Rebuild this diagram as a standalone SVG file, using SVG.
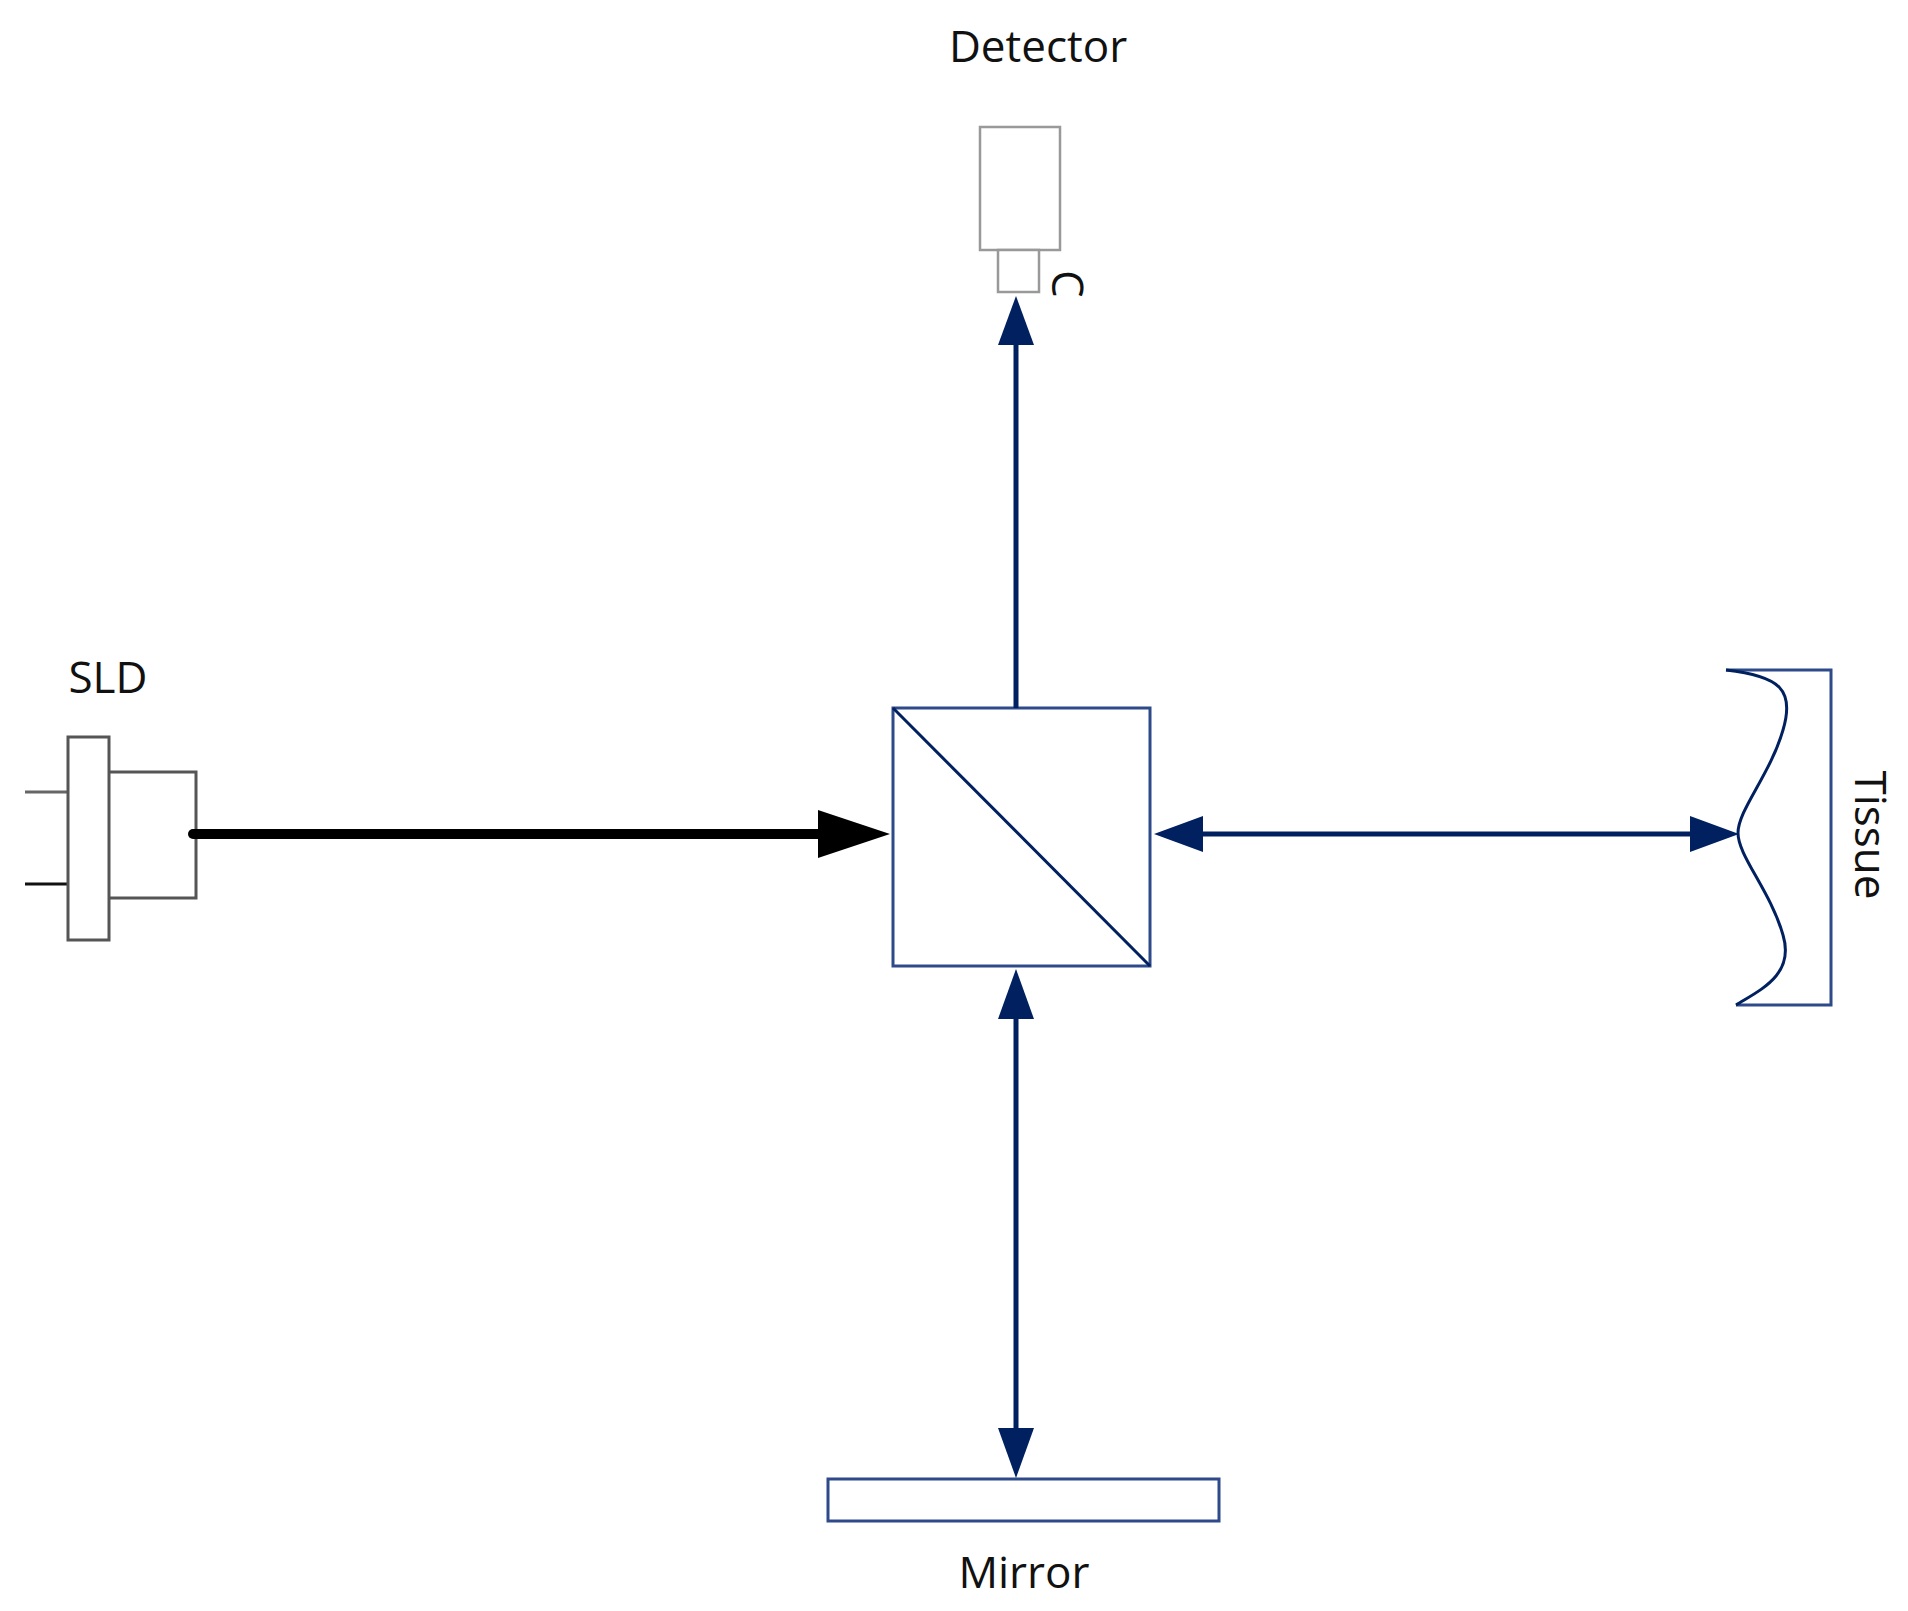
<svg xmlns="http://www.w3.org/2000/svg" width="1908" height="1611" viewBox="0 0 1908 1611">
<style>
text{font-family:"Open Sans","Liberation Sans",sans-serif;fill:#111;font-size:44px}
.blue{stroke:#002060;stroke-width:5;fill:none}
.gray{stroke:#999;stroke-width:2.5;fill:#fff}
.dk{stroke:#555;stroke-width:3;fill:#fff}
.nb{stroke:#2f4a8a;stroke-width:3;fill:#fff}
</style>
<rect width="1908" height="1611" fill="#fff"/>
<g id="detector">
<text x="1038" y="62" text-anchor="middle">Detector</text>
<rect class="gray" x="980" y="127" width="80" height="123"/>
<rect class="gray" x="998" y="250" width="41" height="42"/>
<text x="1040" y="282" font-size="34" transform="rotate(90 1052 282)">C</text>
</g>
<g id="sld">
<text x="108" y="693" text-anchor="middle">SLD</text>
<line x1="25" y1="792" x2="68" y2="792" stroke="#666" stroke-width="3"/>
<line x1="25" y1="884" x2="68" y2="884" stroke="#111" stroke-width="3"/>
<rect class="dk" x="108" y="772" width="88" height="126"/>
<rect class="dk" x="68" y="737" width="41" height="203"/>
</g>
<g id="splitter">
<rect class="nb" x="893" y="708" width="257" height="258"/>
<line x1="893" y1="708" x2="1150" y2="966" stroke="#002060" stroke-width="3"/>
</g>
<g id="tissue">
<path d="M1726,670 H1831 V1005 H1736" class="nb" fill="none"/>
<path d="M1726,670 C1780,676 1795,690 1783,730 C1770,775 1738,810 1738,833 C1738,856 1770,890 1783,935 C1795,975 1760,990 1736,1005" stroke="#002060" stroke-width="3" fill="none"/>
<text x="1870" y="835" text-anchor="middle" transform="rotate(90 1870 835)" dy="15">Tissue</text>
</g>
<g id="mirror">
<rect class="nb" x="828" y="1479" width="391" height="42"/>
<text x="1024" y="1588" text-anchor="middle">Mirror</text>
</g>
<g id="connectors">
<line x1="193" y1="834" x2="840" y2="834" stroke="#000" stroke-width="10" stroke-linecap="round"/>
<path d="M818,810L890,834L818,858z" fill="#000"/>
<line class="blue" x1="1016" y1="708" x2="1016" y2="330"/>
<path d="M998,345L1016,296L1034,345z" fill="#002060"/>
<line class="blue" x1="1195" y1="834" x2="1700" y2="834"/>
<path d="M1203,816L1154,834L1203,852z" fill="#002060"/>
<path d="M1690,816L1739,834L1690,852z" fill="#002060"/>
<line class="blue" x1="1016" y1="1010" x2="1016" y2="1440"/>
<path d="M998,1019L1016,969L1034,1019z" fill="#002060"/>
<path d="M998,1428L1016,1478L1034,1428z" fill="#002060"/>
</g>
</svg>
